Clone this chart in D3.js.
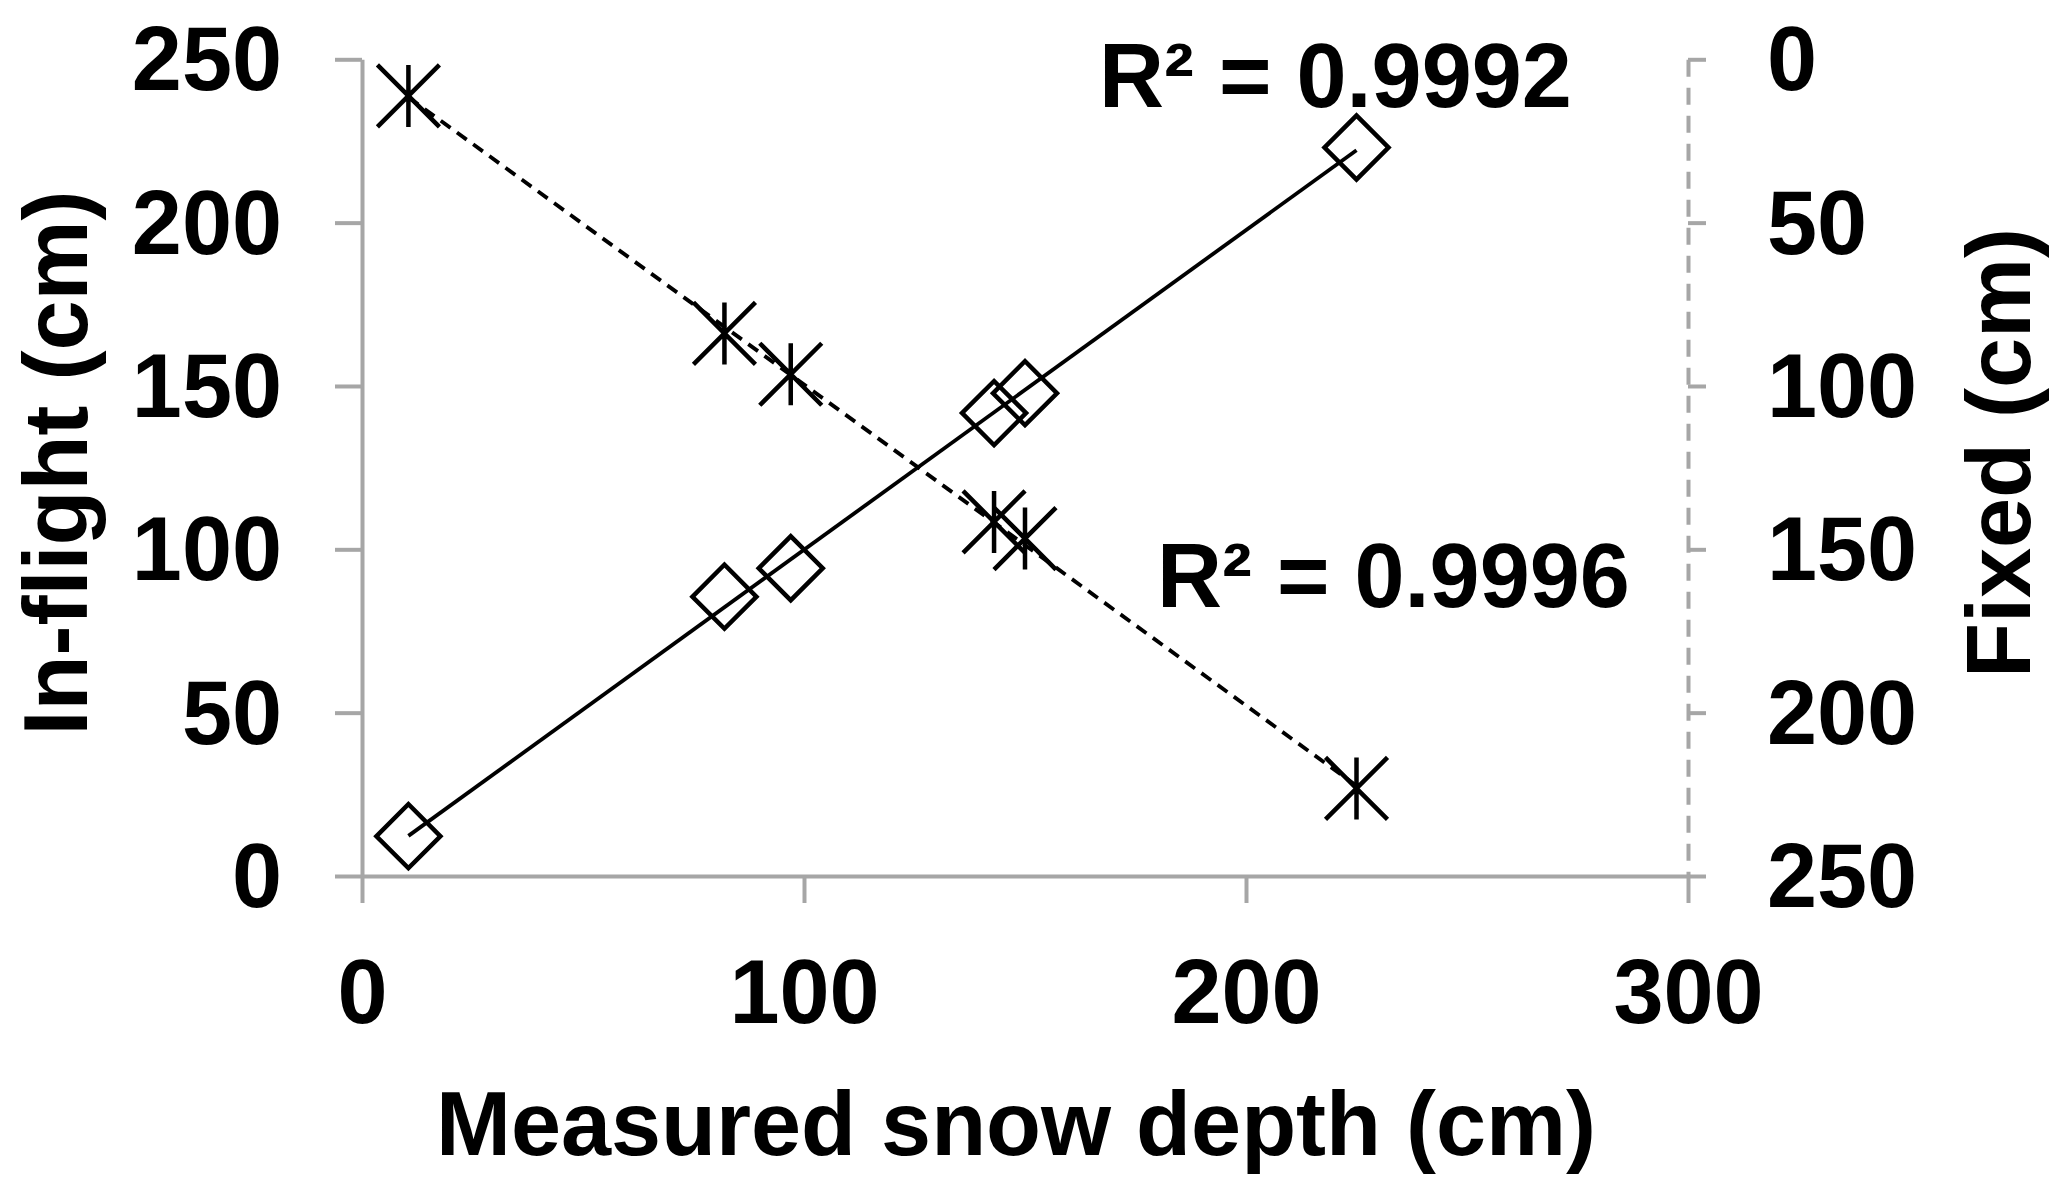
<!DOCTYPE html>
<html>
<head>
<meta charset="utf-8">
<script src="https://cdn.jsdelivr.net/npm/d3@7"></script>
<style>
body { margin:0; background:#fff; }
text { font-family: "Liberation Sans", Arial, sans-serif; font-weight: bold; fill:#000; }
</style>
</head>
<body>
<svg id="chart" width="2067" height="1191"></svg>
<script>
// values
var measured = [10.5, 82, 97, 143, 150, 225];
var inFlight = [12.2, 85.5, 94.2, 141.7, 147.8, 223];
var fixed = [11.2, 83.9, 96.4, 141.6, 146.7, 223.2];
var xTicks = [0, 100, 200, 300];
var yTicks = [0, 50, 100, 150, 200, 250];
var r2Labels = ["R\u00B2 = 0.9992", "R\u00B2 = 0.9996"];
var titles = {x: "Measured snow depth (cm)", left: "In-flight (cm)", right: "Fixed (cm)"};

var axisGray = "#a6a6a6";
var svg = d3.select("#chart");

var x = d3.scaleLinear().domain([0, 300]).range([362, 1688]);
var yL = d3.scaleLinear().domain([0, 250]).range([876, 59.3]);
var yR = d3.scaleLinear().domain([0, 250]).range([59.3, 876]);

function fit(xs, ys) {
	var mx = d3.mean(xs), my = d3.mean(ys);
	var num = 0, den = 0;
	for(var i = 0; i < xs.length; i++) {
		num += (xs[i]-mx)*(ys[i]-my);
		den += (xs[i]-mx)*(xs[i]-mx);
	}
	var b = num/den;
	return function(v) { return my + b*(v-mx); };
}

function styleAxis(g) {
	g.selectAll("line").attr("stroke", axisGray).attr("stroke-width", 4);
	g.select(".domain").attr("stroke", axisGray).attr("stroke-width", 4);
	g.selectAll("text").attr("font-size", "90px").attr("font-family", null);
}

// axes
var gx = svg.append("g").attr("transform", "translate(0,876)")
	.call(d3.axisBottom(x).tickValues(xTicks).tickSize(27).tickSizeOuter(0).tickFormat(d3.format("d")));
styleAxis(gx);
gx.selectAll("text").attr("y", 147).attr("dy", 0);

var gl = svg.append("g").attr("transform", "translate(362,0)")
	.call(d3.axisLeft(yL).tickValues(yTicks).tickSize(27).tickSizeOuter(0).tickPadding(53).tickFormat(d3.format("d")));
styleAxis(gl);
gl.selectAll("text").attr("dy", "0.34em");

var gr = svg.append("g").attr("transform", "translate(1688,0)")
	.call(d3.axisRight(yR).tickValues(yTicks).tickSize(18).tickSizeOuter(0).tickPadding(61).tickFormat(d3.format("d")));
styleAxis(gr);
gr.select(".domain").attr("stroke-dasharray", "17,11");
gr.selectAll("text").attr("dy", "0.34em");

// axis titles
svg.append("text").attr("x", 1016).attr("y", 1155).attr("text-anchor", "middle")
	.attr("font-size", "90px").text(titles.x);
svg.append("text").attr("transform", "translate(87,463) rotate(-90)").attr("text-anchor", "middle")
	.attr("font-size", "90px").text(titles.left);
svg.append("text").attr("transform", "translate(2030,453) rotate(-90)").attr("text-anchor", "middle")
	.attr("font-size", "90px").text(titles.right);

// trendlines
var ends = d3.extent(measured);
var fitIn = fit(measured, inFlight);
var fitFx = fit(measured, fixed);

svg.append("path")
	.attr("d", d3.line().x(function(d) { return x(d); }).y(function(d) { return yL(fitIn(d)); })(ends))
	.attr("fill", "none").attr("stroke", "#000").attr("stroke-width", 3.8);

svg.append("path")
	.attr("d", d3.line().x(function(d) { return x(d); }).y(function(d) { return yR(fitFx(d)); })(ends))
	.attr("fill", "none").attr("stroke", "#000").attr("stroke-width", 3.8)
	.attr("stroke-dasharray", "12,8");

// diamonds (in-flight, left axis)
var diamond = d3.symbol().type(d3.symbolSquare).size(2048);
svg.selectAll(".dia").data(measured).enter().append("path")
	.attr("class", "dia")
	.attr("transform", function(d, i) { return "translate(" + x(d) + "," + yL(inFlight[i]) + ") rotate(45)"; })
	.attr("d", diamond)
	.attr("fill", "none").attr("stroke", "#000").attr("stroke-width", 4.5);

// stars (fixed, right axis)
var s = 31;
var star = "M" + (-s) + "," + (-s) + "L" + s + "," + s + "M" + (-s) + "," + s + "L" + s + "," + (-s) + "M0," + (-s) + "V" + s;
svg.selectAll(".star").data(measured).enter().append("path")
	.attr("class", "star")
	.attr("transform", function(d, i) { return "translate(" + x(d) + "," + yR(fixed[i]) + ")"; })
	.attr("d", star)
	.attr("fill", "none").attr("stroke", "#000").attr("stroke-width", 4.5);

// R squared labels
svg.append("text").attr("x", 1099).attr("y", 107).attr("font-size", "90px").text(r2Labels[0]);
svg.append("text").attr("x", 1157).attr("y", 607).attr("font-size", "90px").text(r2Labels[1]);
</script>
</body>
</html>
